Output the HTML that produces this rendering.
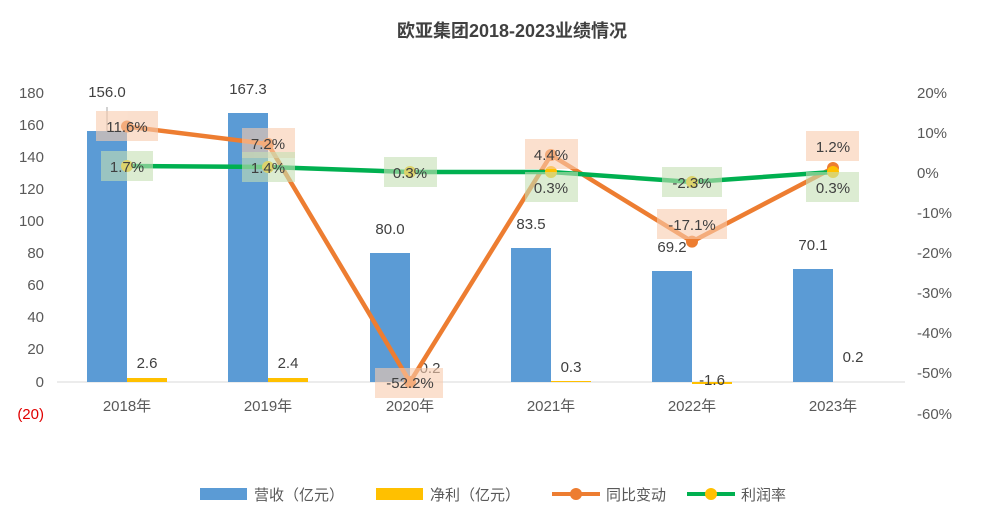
<!DOCTYPE html>
<html><head><meta charset="utf-8"><style>
body{margin:0;background:#fff}
svg{display:block;font-family:"Liberation Sans","Noto Sans CJK SC",sans-serif}
</style></head><body>
<svg width="999" height="529" viewBox="0 0 999 529">
<rect width="999" height="529" fill="#fff"/>
<text x="512" y="37" text-anchor="middle" font-size="18" font-weight="bold" fill="#404040">欧亚集团2018-2023业绩情况</text>
<g font-size="15" fill="#595959" text-anchor="end">
<text x="44" y="98">180</text><text x="44" y="130">160</text><text x="44" y="162">140</text><text x="44" y="194">120</text><text x="44" y="226">100</text><text x="44" y="258">80</text><text x="44" y="290">60</text><text x="44" y="322">40</text><text x="44" y="354">20</text><text x="44" y="387">0</text>
<text x="44" y="419" fill="#e00000">(20)</text>
</g>
<g font-size="15" fill="#595959" text-anchor="start">
<text x="917" y="98">20%</text><text x="917" y="138">10%</text><text x="917" y="178">0%</text><text x="917" y="218">-10%</text><text x="917" y="258">-20%</text><text x="917" y="298">-30%</text><text x="917" y="338">-40%</text><text x="917" y="378">-50%</text><text x="917" y="419">-60%</text>
</g>
<line x1="57" y1="382" x2="905" y2="382" stroke="#d9d9d9"/>
<g fill="#5b9bd5">
<rect x="87" y="131" width="40" height="251"/>
<rect x="228" y="113" width="40" height="269"/>
<rect x="370" y="253" width="40" height="129"/>
<rect x="511" y="248" width="40" height="134"/>
<rect x="652" y="271" width="40" height="111"/>
<rect x="793" y="269" width="40" height="113"/>
</g>
<g fill="#ffc000">
<rect x="127" y="378" width="40" height="4"/>
<rect x="268" y="378" width="40" height="4"/>
<rect x="551" y="381" width="40" height="1"/>
<rect x="692" y="382" width="40" height="2"/>
</g>
<g font-size="15" fill="#404040" text-anchor="middle">
<text x="107" y="97">156.0</text><text x="248" y="94">167.3</text><text x="390" y="234">80.0</text><text x="531" y="229">83.5</text><text x="672" y="252">69.2</text><text x="813" y="250">70.1</text>
<text x="147" y="368">2.6</text><text x="288" y="368">2.4</text><text x="430" y="373">0.2</text><text x="571" y="372">0.3</text><text x="712" y="385">-1.6</text><text x="853" y="362">0.2</text>
</g>
<line x1="107" y1="107" x2="107" y2="131" stroke="#a6a6a6"/>
<polyline points="127,126.5 268,144 410,382 551,155 692,241.6 833,168" fill="none" stroke="#ed7d31" stroke-width="4.5" stroke-linejoin="round"/>
<polyline points="127,166 268,167 410,172 551,172 692,182 833,172" fill="none" stroke="#00b050" stroke-width="4.5"/>
<g fill="#ed7d31"><circle cx="127" cy="126.5" r="6"/><circle cx="268" cy="144" r="6"/><circle cx="410" cy="382" r="6"/><circle cx="551" cy="155" r="6"/><circle cx="692" cy="241.6" r="6"/><circle cx="833" cy="168" r="6"/></g>
<g fill="#ffc000"><circle cx="127" cy="166" r="6"/><circle cx="268" cy="167" r="6"/><circle cx="410" cy="172" r="6"/><circle cx="551" cy="172" r="6"/><circle cx="692" cy="182" r="6"/><circle cx="833" cy="172" r="6"/></g>
<g fill="#f8cbad" opacity="0.6">
<rect x="96" y="111" width="62" height="30"/><rect x="242" y="128" width="53" height="30"/><rect x="375" y="368" width="68" height="30"/><rect x="525" y="139" width="53" height="30"/><rect x="657" y="209" width="70" height="30"/><rect x="806" y="131" width="53" height="30"/>
</g>
<g fill="#c5e0b4" opacity="0.6">
<rect x="101" y="151" width="52" height="30"/><rect x="242" y="152" width="53" height="30"/><rect x="384" y="157" width="53" height="30"/><rect x="525" y="172" width="53" height="30"/><rect x="662" y="167" width="60" height="30"/><rect x="806" y="172" width="53" height="30"/>
</g>
<g font-size="15" fill="#404040" text-anchor="middle">
<text x="127" y="132">11.6%</text><text x="268" y="149">7.2%</text><text x="410" y="388">-52.2%</text><text x="551" y="160">4.4%</text><text x="692" y="230">-17.1%</text><text x="833" y="152">1.2%</text>
<text x="127" y="172">1.7%</text><text x="268" y="173">1.4%</text><text x="410" y="178">0.3%</text><text x="551" y="193">0.3%</text><text x="692" y="188">-2.3%</text><text x="833" y="193">0.3%</text>
</g>
<g font-size="15" fill="#595959" text-anchor="middle">
<text x="127" y="411">2018年</text><text x="268" y="411">2019年</text><text x="410" y="411">2020年</text><text x="551" y="411">2021年</text><text x="692" y="411">2022年</text><text x="833" y="411">2023年</text>
</g>
<g font-size="15" fill="#595959">
<rect x="200" y="488" width="47" height="12" fill="#5b9bd5"/><text x="254" y="500">营收（亿元）</text>
<rect x="376" y="488" width="47" height="12" fill="#ffc000"/><text x="430" y="500">净利（亿元）</text>
<line x1="552" y1="494" x2="600" y2="494" stroke="#ed7d31" stroke-width="4"/><circle cx="576" cy="494" r="6" fill="#ed7d31"/><text x="606" y="500">同比变动</text>
<line x1="687" y1="494" x2="735" y2="494" stroke="#00b050" stroke-width="4"/><circle cx="711" cy="494" r="6" fill="#ffc000"/><text x="741" y="500">利润率</text>
</g>
</svg>
</body></html>
